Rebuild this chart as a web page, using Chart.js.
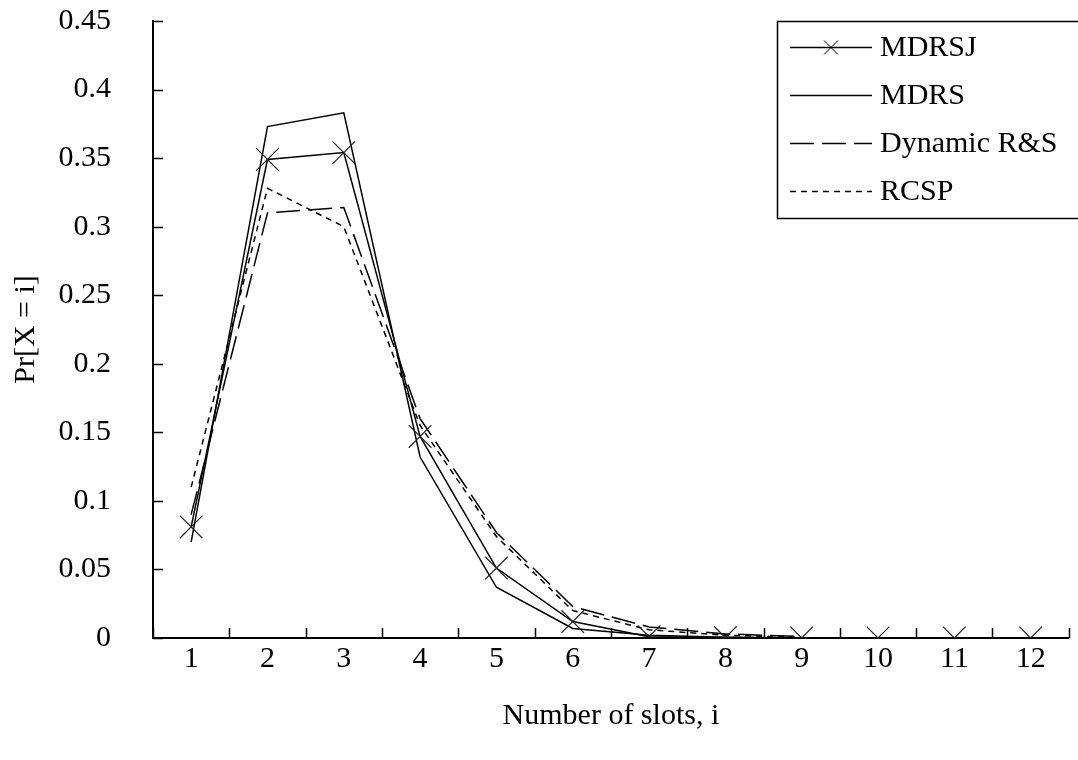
<!DOCTYPE html>
<html>
<head>
<meta charset="utf-8">
<script src="https://cdn.jsdelivr.net/npm/chart.js@4/dist/chart.umd.min.js"></script>
<style>
  html, body { margin: 0; padding: 0; background: #fff; overflow: hidden; }
  #wrap { position: absolute; left: 0; top: 0; width: 1086px; height: 760px; }
</style>
</head>
<body>
<div id="wrap"><canvas id="chart"></canvas></div>
<script>
// 横軸カテゴリ（スロット数）
const categories = ['1', '2', '3', '4', '5', '6', '7', '8', '9', '10', '11', '12'];

// 各方式の確率分布 Pr[X = i]
const mdrsj = [0.081, 0.349, 0.354, 0.147, 0.051, 0.012, 0.001, 0.0003, 0, 0, 0, 0];
const mdrs = [0.070, 0.373, 0.383, 0.132, 0.037, 0.007, 0.002, 0.0005, 0.0001];
const dynamicRS = [0.090, 0.310, 0.314, 0.160, 0.077, 0.023, 0.008, 0.003, 0.001];
const rcsp = [0.110, 0.328, 0.300, 0.155, 0.074, 0.020, 0.006, 0.002, 0.0005];

// 縦軸目盛ラベル
const yTickLabels = ['0', '0.05', '0.1', '0.15', '0.2', '0.25', '0.3', '0.35', '0.4', '0.45'];

const FONT = "'Liberation Serif', 'DejaVu Serif', serif";

// 軸の内向き目盛
const innerTicks = {
    id: 'innerTicks',
    afterDraw(chart) {
        const ctx = chart.ctx;
        const xs = chart.scales.x;
        const ys = chart.scales.y;
        const area = chart.chartArea;
        ctx.save();
        ctx.strokeStyle = '#000';
        ctx.lineWidth = 1.5;
        ctx.beginPath();
        ys.ticks.forEach((t, i) => {
            const py = Math.round(ys.getPixelForTick(i)) + 0.5;
            ctx.moveTo(area.left, py);
            ctx.lineTo(area.left + 10, py);
        });
        for (let i = 0; i <= categories.length; i++) {
            const px = Math.round(xs.getPixelForValue(i - 0.5)) + 0.5;
            ctx.moveTo(px, area.bottom);
            ctx.lineTo(px, area.bottom - 10);
        }
        ctx.stroke();
        ctx.restore();
    }
};

// 枠付き凡例（プロット領域内右上）
const boxLegend = {
    id: 'boxLegend',
    afterDraw(chart) {
        const ctx = chart.ctx;
        const left = 777, top = 21, bottom = 218;
        const rows = [47, 95, 143, 191];
        ctx.save();
        ctx.fillStyle = '#fff';
        ctx.fillRect(left, top, 400, bottom - top);
        ctx.strokeStyle = '#000';
        ctx.lineWidth = 1.5;
        ctx.strokeRect(left + 0.5, top + 0.5, 400, bottom - top);
        chart.data.datasets.forEach((ds, i) => {
            const yy = rows[i] + 0.5;
            ctx.strokeStyle = '#000';
            ctx.lineWidth = 1.5;
            ctx.setLineDash(ds.borderDash || []);
            ctx.beginPath();
            ctx.moveTo(790, yy);
            ctx.lineTo(872, yy);
            ctx.stroke();
            ctx.setLineDash([]);
            if (ds.pointStyle === 'crossRot') {
                ctx.lineWidth = 1;
                ctx.beginPath();
                ctx.moveTo(824, yy - 7);
                ctx.lineTo(838, yy + 7);
                ctx.moveTo(824, yy + 7);
                ctx.lineTo(838, yy - 7);
                ctx.stroke();
            }
            ctx.fillStyle = '#000';
            ctx.font = '30px ' + FONT;
            ctx.textBaseline = 'middle';
            ctx.textAlign = 'left';
            ctx.fillText(ds.label, 880, rows[i] + 1);
        });
        ctx.restore();
    }
};

const baseLine = {
    borderColor: '#000',
    backgroundColor: '#000',
    borderWidth: 1.5,
    fill: false,
    tension: 0,
    pointRadius: 0,
    pointHoverRadius: 0
};

new Chart(document.getElementById('chart'), {
    type: 'line',
    data: {
        labels: categories,
        datasets: [
            Object.assign({}, baseLine, {
                label: 'MDRSJ',
                data: mdrsj,
                pointStyle: 'crossRot',
                pointRadius: 16,
                pointBorderWidth: 1.2,
                pointBorderColor: '#222'
            }),
            Object.assign({}, baseLine, { label: 'MDRS', data: mdrs }),
            Object.assign({}, baseLine, { label: 'Dynamic R&S', data: dynamicRS, borderDash: [24, 8] }),
            Object.assign({}, baseLine, { label: 'RCSP', data: rcsp, borderDash: [6, 5] })
        ]
    },
    options: {
        responsive: true,
        maintainAspectRatio: false,
        animation: false,
        events: [],
        layout: { padding: { top: 21, left: 0, right: 0, bottom: 0 } },
        plugins: {
            legend: { display: false },
            tooltip: { enabled: false }
        },
        scales: {
            x: {
                type: 'category',
                offset: true,
                grid: { display: false, drawTicks: false },
                border: { display: true, color: '#000', width: 2 },
                ticks: { color: '#000', font: { family: FONT, size: 30 }, padding: 3, maxRotation: 0 },
                title: {
                    display: true,
                    text: 'Number of slots, i',
                    color: '#000',
                    font: { family: FONT, size: 30 },
                    padding: { top: 4, bottom: 26 }
                },
                afterFit(scale) {
                    scale.height = 122;
                    scale.paddingLeft = 0;
                    scale.paddingRight = 0;
                }
            },
            y: {
                min: 0,
                max: 0.45,
                grid: { display: false, drawTicks: false },
                border: { display: true, color: '#000', width: 2 },
                ticks: {
                    stepSize: 0.05,
                    color: '#000',
                    font: { family: FONT, size: 30 },
                    padding: 42,
                    callback: (v, i) => yTickLabels[i]
                },
                title: {
                    display: true,
                    text: 'Pr[X = i]',
                    color: '#000',
                    font: { family: FONT, size: 30 },
                    padding: { top: 8, bottom: 4 }
                },
                afterFit(scale) {
                    scale.width = 153;
                    scale.paddingTop = 0;
                    scale.paddingBottom = 0;
                }
            }
        }
    },
    plugins: [innerTicks, boxLegend]
});
</script>
</body>
</html>
